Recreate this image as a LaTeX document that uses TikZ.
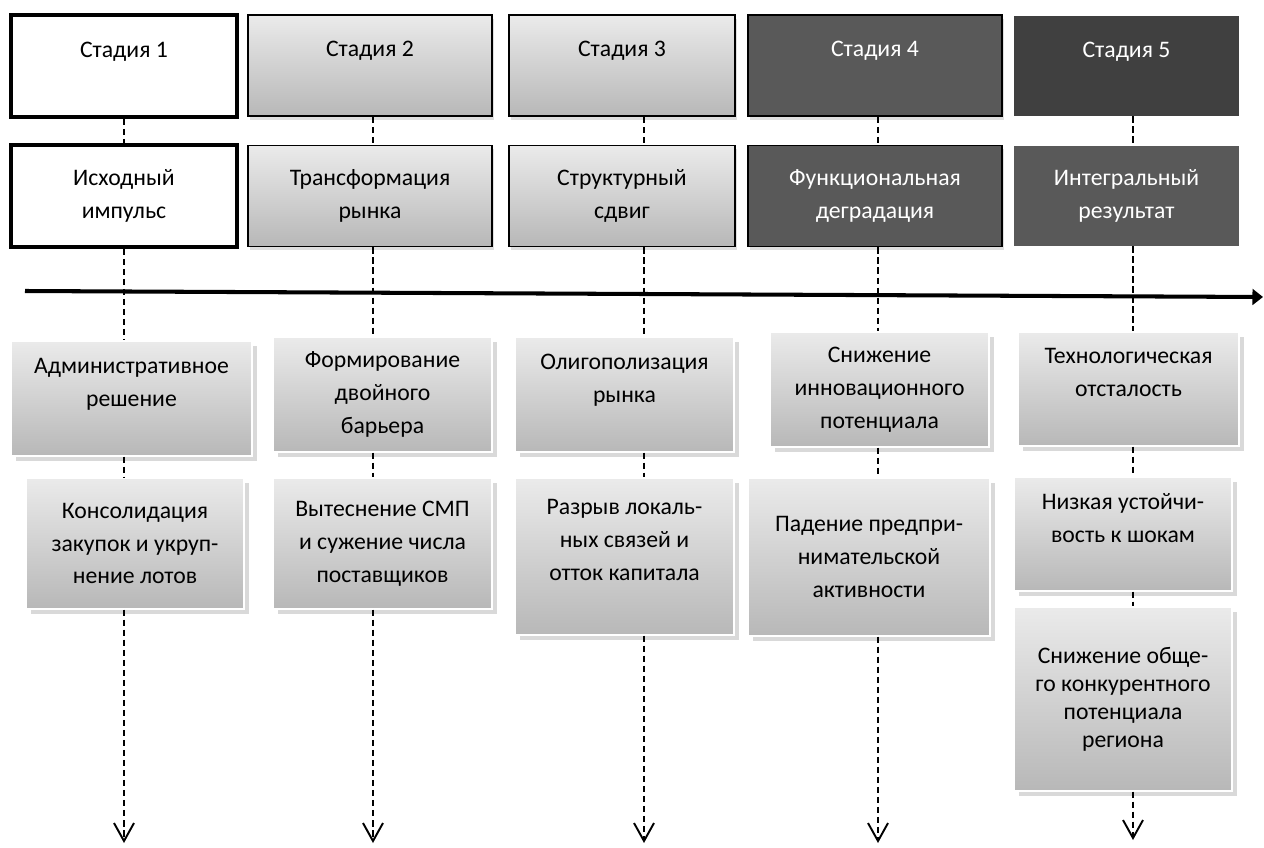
\documentclass[tikz,border=0pt]{standalone}
\usepackage{fontspec}
\setmainfont{Carlito}
\usetikzlibrary{arrows.meta,shadows}

\definecolor{boxtop}{gray}{0.92}
\definecolor{boxbot}{gray}{0.72}
\definecolor{darkfill}{gray}{0.35}
\definecolor{darkerfill}{gray}{0.25}

\begin{document}
\begin{tikzpicture}[x=0.02cm,y=-0.02cm,
    every node/.style={font=\fontsize{13.5}{18.7}\selectfont,align=center,inner sep=0pt},
    first stage/.style={rectangle,draw=black,line width=2pt,fill=white},
    light stage/.style={rectangle,draw=black,line width=1.1pt,top color=boxtop,bottom color=boxbot,
        drop shadow={shadow xshift=1pt,shadow yshift=-2pt,opacity=0.25}},
    dark stage/.style={rectangle,draw=black,line width=1.1pt,fill=darkfill,text=white,
        drop shadow={shadow xshift=1pt,shadow yshift=-2pt,opacity=0.25}},
    last stage/.style={rectangle,fill=#1,text=white},
    effect/.style={rectangle,draw=white,line width=0.8pt,top color=boxtop,bottom color=boxbot,
        drop shadow={shadow xshift=3pt,shadow yshift=-3pt,opacity=0.3}},
    link/.style={line width=1.1pt,dash pattern=on 3.7pt off 2pt},
    timeline/.style={line width=2.3pt,-{Triangle[length=6pt,width=9pt]}}]

    \useasboundingbox (0,0) rectangle (1264,848);

    % stages
    \node[first stage,minimum width=4.52cm,minimum height=2.04cm] (s1) at (124,66) {Стадия 1\\\mbox{}};
    \node[light stage,minimum width=4.88cm,minimum height=2.02cm] (s2) at (370,65.5) {Стадия 2\\\mbox{}};
    \node[light stage,minimum width=4.52cm,minimum height=2.02cm] (s3) at (622,65.5) {Стадия 3\\\mbox{}};
    \node[dark stage,minimum width=5.08cm,minimum height=2.02cm] (s4) at (875,65.5) {Стадия 4\\\mbox{}};
    \node[last stage=darkerfill,minimum width=4.5cm,minimum height=2cm] (s5) at (1126.5,66) {Стадия 5\\\mbox{}};

    \node[first stage,minimum width=4.52cm,minimum height=2.04cm] (r1) at (124,196) {Исходный\\импульс};
    \node[light stage,minimum width=4.88cm,minimum height=2.02cm] (r2) at (370,196) {Трансформация\\рынка};
    \node[light stage,minimum width=4.52cm,minimum height=2.02cm] (r3) at (622,196) {Структурный\\сдвиг};
    \node[dark stage,minimum width=5.08cm,minimum height=2.02cm] (r4) at (875,196) {Функциональная\\деградация};
    \node[last stage=darkfill,minimum width=4.5cm,minimum height=2cm] (r5) at (1126.5,196) {Интегральный\\результат};

    % effects
    \node[effect,minimum width=4.82cm,minimum height=2.3cm] (a1) at (131.5,398.5) {Административное\\решение\\\mbox{}};
    \node[effect,minimum width=4.38cm,minimum height=2.3cm] (a2) at (382.5,394.5) {Формирование\\двойного\\барьера};
    \node[effect,minimum width=4.38cm,minimum height=2.3cm] (a3) at (624.5,394.5) {Олигополизация\\рынка\\\mbox{}};
    \node[effect,minimum width=4.38cm,minimum height=2.3cm] (a4) at (879.5,389.5) {Снижение\\инновационного\\потенциала};
    \node[effect,minimum width=4.42cm,minimum height=2.28cm] (a5) at (1128.5,389) {Технологическая\\отсталость\\\mbox{}};

    \node[effect,minimum width=4.36cm,minimum height=2.62cm] (b1) at (135,543.5) {Консолидация\\закупок и укруп-\\нение лотов};
    \node[effect,minimum width=4.38cm,minimum height=2.62cm] (b2) at (382.5,543.5) {Вытеснение СМП\\и сужение числа\\поставщиков};
    \node[effect,minimum width=4.38cm,minimum height=3.14cm] (b3) at (624.5,556.5) {Разрыв локаль-\\ных связей и\\отток капитала\\\mbox{}};
    \node[effect,minimum width=4.84cm,minimum height=3.16cm] (b4) at (869,557) {Падение предпри-\\нимательской\\активности};
    \node[effect,minimum width=4.36cm,minimum height=2.28cm] (b5) at (1123,534) {Низкая устойчи-\\вость к шокам\\\mbox{}};
    \node[effect,minimum width=4.36cm,minimum height=3.68cm,font=\fontsize{13.5}{16}\selectfont] (c5) at (1123,699) {Снижение обще-\\го конкурентного\\потенциала\\региона};

    % dashed links
    \foreach \i/\lx/\ly in {1/124/843,2/373/843,3/644/843,4/878/843,5/1133/840}{
        \coordinate (x\i) at (\lx,0);
        \coordinate (e\i) at (\lx,\ly);
        \draw[link] (s\i.south -| x\i) -- (r\i.north -| x\i);
        \draw[link] (r\i.south -| x\i) -- (a\i.north -| x\i);
        \draw[link] (a\i.south -| x\i) -- (b\i.north -| x\i);
    }
    \foreach \i in {1,...,4}{
        \draw[link,-{Straight Barb[length=0.36cm,width=0.4cm]}] (b\i.south -| x\i) -- (e\i);
    }
    \draw[link] (b5.south -| x5) -- (c5.north -| x5);
    \draw[link,-{Straight Barb[length=0.36cm,width=0.4cm]}] (c5.south -| x5) -- (e5);

    % time axis
    \coordinate (t0) at (25,291);
    \coordinate (t1) at (1263,297);
    \draw[timeline] (t0) -- (t1);

\end{tikzpicture}
\end{document}
